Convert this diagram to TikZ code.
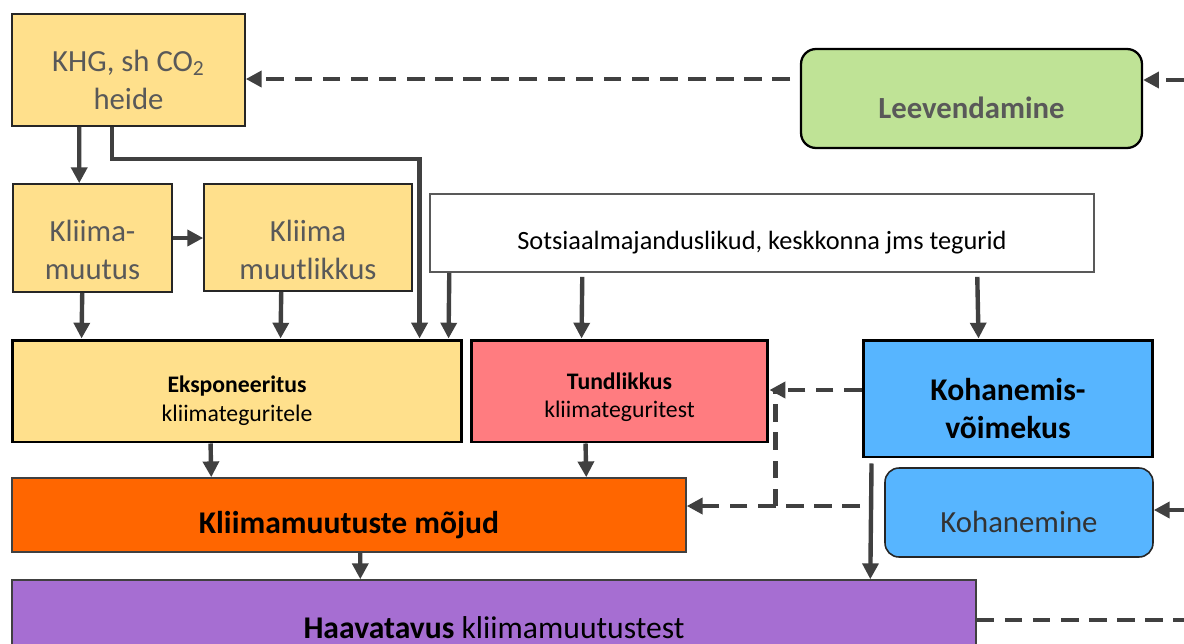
\documentclass[tikz,border=0pt]{standalone}
\usepackage{fontspec}
\setmainfont{Carlito}
\usetikzlibrary{arrows.meta,calc}

\definecolor{kollane}{HTML}{FFE08C}
\definecolor{roheline}{HTML}{BFE396}
\definecolor{roosa}{HTML}{FF7C80}
\definecolor{sinine}{HTML}{57B5FF}
\definecolor{oranz}{HTML}{FF6600}
\definecolor{lilla}{HTML}{A66ED2}
\definecolor{joon}{HTML}{404040}
\definecolor{hall}{HTML}{595959}

\tikzset{
	kast/.style={draw=black!85, line width=0.9pt, inner sep=0pt},
	paks/.style={kast, draw=black, line width=1.7pt},
	tekst/.style={align=center, yshift=-5.5pt},
	suur/.style={font=\fontsize{17.5}{21.5}\selectfont},
	keskm/.style={font=\fontsize{13.5}{16}\selectfont},
	kriipsjoon/.style={draw=joon, line width=2.5pt, dash pattern=on 10pt off 6pt},
	nool/.style={draw=joon, line width=2.5pt, -{Triangle[length=9pt,width=9pt]}},
	kriips/.style={kriipsjoon, -{Triangle[length=9pt,width=9pt]}},
}

\begin{document}
\begin{tikzpicture}[x=0.02cm, y=-0.02cm]
	\path[use as bounding box, fill=white] (0,0) rectangle (1184,643);
	\clip (0,0) rectangle (1184,643);

	% kastid
	\node[kast, fill=kollane, minimum width=4.66cm, minimum height=2.24cm,
		label={[tekst, suur, text=hall]center:{KHG, sh CO\textsubscript{2}\\heide}}] (khg) at (128.5,70) {};
	\node[kast, draw=black, line width=1.3pt, rounded corners=0.3cm, fill=roheline, minimum width=6.82cm, minimum height=1.98cm,
		label={[tekst, suur, text=hall]center:{\bfseries Leevendamine}}] (leev) at (971.5,98.5) {};
	\node[kast, fill=kollane, minimum width=3.18cm, minimum height=2.16cm,
		label={[tekst, suur, text=hall, yshift=-1.5pt]center:{Kliima-\\muutus}}] (muutus) at (92.5,238) {};
	\node[kast, fill=kollane, minimum width=4.16cm, minimum height=2.14cm,
		label={[tekst, suur, text=hall, yshift=-1.5pt]center:{Kliima\\muutlikkus}}] (muutlik) at (308,237.5) {};
	\node[kast, draw=hall, fill=white, minimum width=13.28cm, minimum height=1.56cm,
		label={[tekst, font=\fontsize{15}{18}\selectfont]center:{Sotsiaalmajanduslikud, keskkonna jms tegurid}}] (sots) at (762,233) {};
	\node[paks, fill=kollane, minimum width=9cm, minimum height=2.04cm,
		label={[tekst, keskm]center:{\bfseries Eksponeeritus\\kliimateguritele}}] (ekspo) at (237,391) {};
	\node[paks, fill=roosa, minimum width=5.94cm, minimum height=2.04cm,
		label={[tekst, keskm, yshift=2pt]center:{\bfseries Tundlikkus\\kliimateguritest}}] (tundl) at (619.5,391) {};
	\node[paks, fill=sinine, minimum width=5.8cm, minimum height=2.34cm,
		label={[tekst, font=\bfseries\fontsize{18}{21.5}\selectfont]center:{Kohanemis-\\võimekus}}] (kvoime) at (1008,398.5) {};
	\node[kast, rounded corners=0.28cm, fill=sinine, minimum width=5.36cm, minimum height=1.78cm,
		label={[tekst, suur, text=black!80]center:{Kohanemine}}] (kohan) at (1019,512.5) {};
	\node[kast, draw=black!75, fill=oranz, minimum width=13.48cm, minimum height=1.48cm,
		label={[tekst, font=\bfseries\fontsize{18}{21.5}\selectfont]center:{Kliimamuutuste mõjud}}] (mojud) at (349,515) {};
	\node[kast, draw=black!75, fill=lilla, minimum width=19.28cm, minimum height=1.6cm,
		label={[tekst, yshift=1pt, font=\fontsize{18}{21.5}\selectfont]center:{\bfseries Haavatavus\mdseries{} kliimamuutustest}}] (haav) at (494,620) {};

	% täisjoonega nooled
	\draw[nool] ($(khg.south west)+(68,0)$) -- ($(muutus.north west)+(67,0)$);
	\draw[nool] ($(khg.south west)+(101,0)$) -- ++(0,32) -| ($(ekspo.north west)+(409,0)$);
	\draw[nool] (muutus.east) -- (muutus.east -| muutlik.west);
	\draw[nool] ($(muutus.south west)+(70,0)$) -- ($(ekspo.north west)+(71,0)$);
	\draw[nool] ($(muutlik.south west)+(78,0)$) -- ($(ekspo.north west)+(270,0)$);
	\draw[nool] ($(sots.south west)+(20,0)$) -- ($(ekspo.north west)+(438,0)$);
	\draw[nool] ($(sots.south west)+(153,4)$) -- ($(tundl.north west)+(112,0)$);
	\draw[nool] ($(sots.south west)+(548,4)$) -- ($(kvoime.north west)+(117,0)$);
	\draw[nool] ($(ekspo.south west)+(200,0)$) -- ($(mojud.north west)+(200,0)$);
	\draw[nool] ($(tundl.south west)+(116,0)$) -- ($(mojud.north west)+(575,0)$);
	\draw[nool] ($(mojud.south west)+(349,0)$) -- ($(haav.north west)+(349,0)$);
	\draw[nool] ($(kvoime.south west)+(10,5)$) -- ($(haav.north west)+(859,0)$);

	% katkendjoonega nooled
	\coordinate (lv) at (790,79);
	\coordinate (pv) at (1184,80);
	\coordinate (pk) at (1184,510);
	\coordinate (kv) at (860,506);
	\coordinate (ks) at ($(kvoime.west)+(0,-8.5)$);
	\coordinate (ris) at ($(tundl.east |- kv)+(6,0)$);

	\draw[kriips] (lv) -- (lv -| khg.east);
	\draw[kriips] (pv) -- (pv -| leev.east);
	\draw[kriips] (ks) -- (ks -| tundl.east);
	\draw[kriipsjoon] (kv) -| ($(tundl.east)+(6,0)$);
	\draw[kriips] (ris) -- (ris -| mojud.east);
	\draw[kriips] (pk) -- (pk -| kohan.east);
	\draw[kriipsjoon] (haav.east) -- (haav.east -| pk);
\end{tikzpicture}
\end{document}
